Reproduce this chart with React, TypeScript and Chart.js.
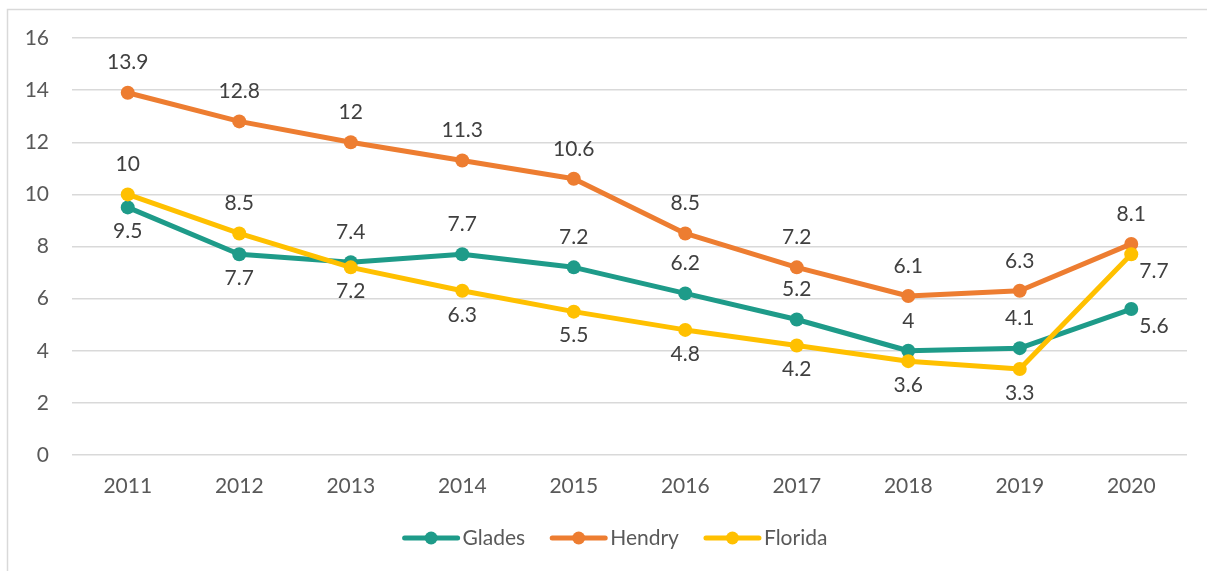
import React, { useEffect, useRef } from "react";
import { Chart, registerables } from "chart.js";

Chart.register(...registerables);

const categories = ["2011", "2012", "2013", "2014", "2015", "2016", "2017", "2018", "2019", "2020"];
const seriesNames = ["Glades", "Hendry", "Florida"];
const glades = [9.5, 7.7, 7.4, 7.7, 7.2, 6.2, 5.2, 4, 4.1, 5.6];
const hendry = [13.9, 12.8, 12, 11.3, 10.6, 8.5, 7.2, 6.1, 6.3, 8.1];
const florida = [10, 8.5, 7.2, 6.3, 5.5, 4.8, 4.2, 3.6, 3.3, 7.7];
const yMin = 0;
const yMax = 16;
const yStep = 2;

const gladesLabelPos = ["below", "below", "above", "above", "above", "above", "above", "above", "above", "right"];
const hendryLabelPos = ["above", "above", "above", "above", "above", "above", "above", "above", "above", "above"];
const floridaLabelPos = ["above", "above", "below", "below", "below", "below", "below", "below", "below", "right"];

const COLORS = ["#1E9B89", "#ED7D31", "#FFC000"];
const FONT = "Lato, 'Open Sans', sans-serif";
const FONT_SIZE = 21;

export default function App() {
  const ref = useRef<HTMLCanvasElement | null>(null);

  useEffect(() => {
    if (!ref.current) return;
    const labelPositions = [gladesLabelPos, hendryLabelPos, floridaLabelPos];

    const dataLabels = {
      id: "dataLabels",
      afterDatasetsDraw(chart: any) {
        const ctx = chart.ctx;
        ctx.save();
        ctx.font = `${FONT_SIZE}px ${FONT}`;
        ctx.fillStyle = "#404040";
        chart.data.datasets.forEach((ds: any, i: number) => {
          const meta = chart.getDatasetMeta(i);
          meta.data.forEach((pt: any, j: number) => {
            const pos = labelPositions[i][j];
            const txt = String(ds.data[j]);
            let x = pt.x;
            let y = pt.y;
            if (pos === "above") {
              ctx.textAlign = "center";
              y -= 30;
            } else if (pos === "below") {
              ctx.textAlign = "center";
              y += 24;
            } else {
              ctx.textAlign = "left";
              x += 8;
              y += 17;
            }
            ctx.textBaseline = "middle";
            ctx.fillText(txt, x, y);
          });
        });
        ctx.restore();
      },
    };

    const frameAndLegend = {
      id: "frameAndLegend",
      afterDraw(chart: any) {
        const ctx = chart.ctx;
        ctx.save();
        ctx.strokeStyle = "#D9D9D9";
        ctx.lineWidth = 1.5;
        ctx.beginPath();
        ctx.moveTo(7.5, 571);
        ctx.lineTo(7.5, 9.5);
        ctx.lineTo(1207, 9.5);
        ctx.stroke();
        ctx.font = `${FONT_SIZE}px ${FONT}`;
        ctx.textBaseline = "middle";
        ctx.textAlign = "left";
        const lineLen = 57;
        const gapText = 3;
        const gapItems = 25;
        const widths = seriesNames.map((n) => lineLen + gapText + ctx.measureText(n).width);
        const total = widths.reduce((a, b) => a + b, 0) + gapItems * (seriesNames.length - 1);
        let x = 615 - total / 2;
        const y = 538;
        seriesNames.forEach((n, i) => {
          ctx.strokeStyle = COLORS[i];
          ctx.lineWidth = 5;
          ctx.lineCap = "round";
          ctx.beginPath();
          ctx.moveTo(x + 2, y);
          ctx.lineTo(x + lineLen - 2, y);
          ctx.stroke();
          ctx.fillStyle = COLORS[i];
          ctx.beginPath();
          ctx.arc(x + lineLen / 2, y, 6.5, 0, Math.PI * 2);
          ctx.fill();
          ctx.fillStyle = "#595959";
          ctx.fillText(n, x + lineLen + gapText, y);
          x += widths[i] + gapItems;
        });
        ctx.restore();
      },
    };

    const allSeries = [glades, hendry, florida];
    const chart = new Chart(ref.current, {
      type: "line",
      data: {
        labels: categories,
        datasets: seriesNames.map((name, i) => ({
          label: name,
          data: allSeries[i],
          borderColor: COLORS[i],
          backgroundColor: COLORS[i],
          borderWidth: 5,
          pointRadius: 7,
          pointBorderWidth: 0,
          pointBackgroundColor: COLORS[i],
          pointHoverRadius: 7,
          tension: 0,
          order: 3 - i,
          borderCapStyle: "round",
          borderJoinStyle: "round",
        })),
      },
      options: {
        responsive: false,
        animation: false,
        devicePixelRatio: 1,
        layout: { padding: { top: 38, right: 20, bottom: 0, left: 0 } },
        plugins: {
          legend: { display: false },
          tooltip: { enabled: false },
        },
        scales: {
          x: {
            type: "category",
            offset: true,
            grid: { display: false, drawTicks: false },
            border: { display: false },
            ticks: {
              color: "#595959",
              font: { family: FONT, size: FONT_SIZE },
              padding: 19,
              maxRotation: 0,
            },
            afterFit(scale: any) {
              scale.height = 116;
            },
          },
          y: {
            min: yMin,
            max: yMax,
            grid: { color: "#D9D9D9", lineWidth: 1.5, drawTicks: false },
            border: { display: false },
            ticks: {
              stepSize: yStep,
              color: "#595959",
              font: { family: FONT, size: FONT_SIZE },
              padding: 23,
            },
            afterFit(scale: any) {
              scale.width = 72;
            },
          },
        },
      },
      plugins: [dataLabels, frameAndLegend],
    });
    return () => chart.destroy();
  }, []);

  return (
    <div style={{ position: "fixed", left: 0, top: 0, width: 1207, height: 571, background: "#fff" }}>
      <canvas ref={ref} width={1207} height={571} style={{ display: "block" }} />
    </div>
  );
}
